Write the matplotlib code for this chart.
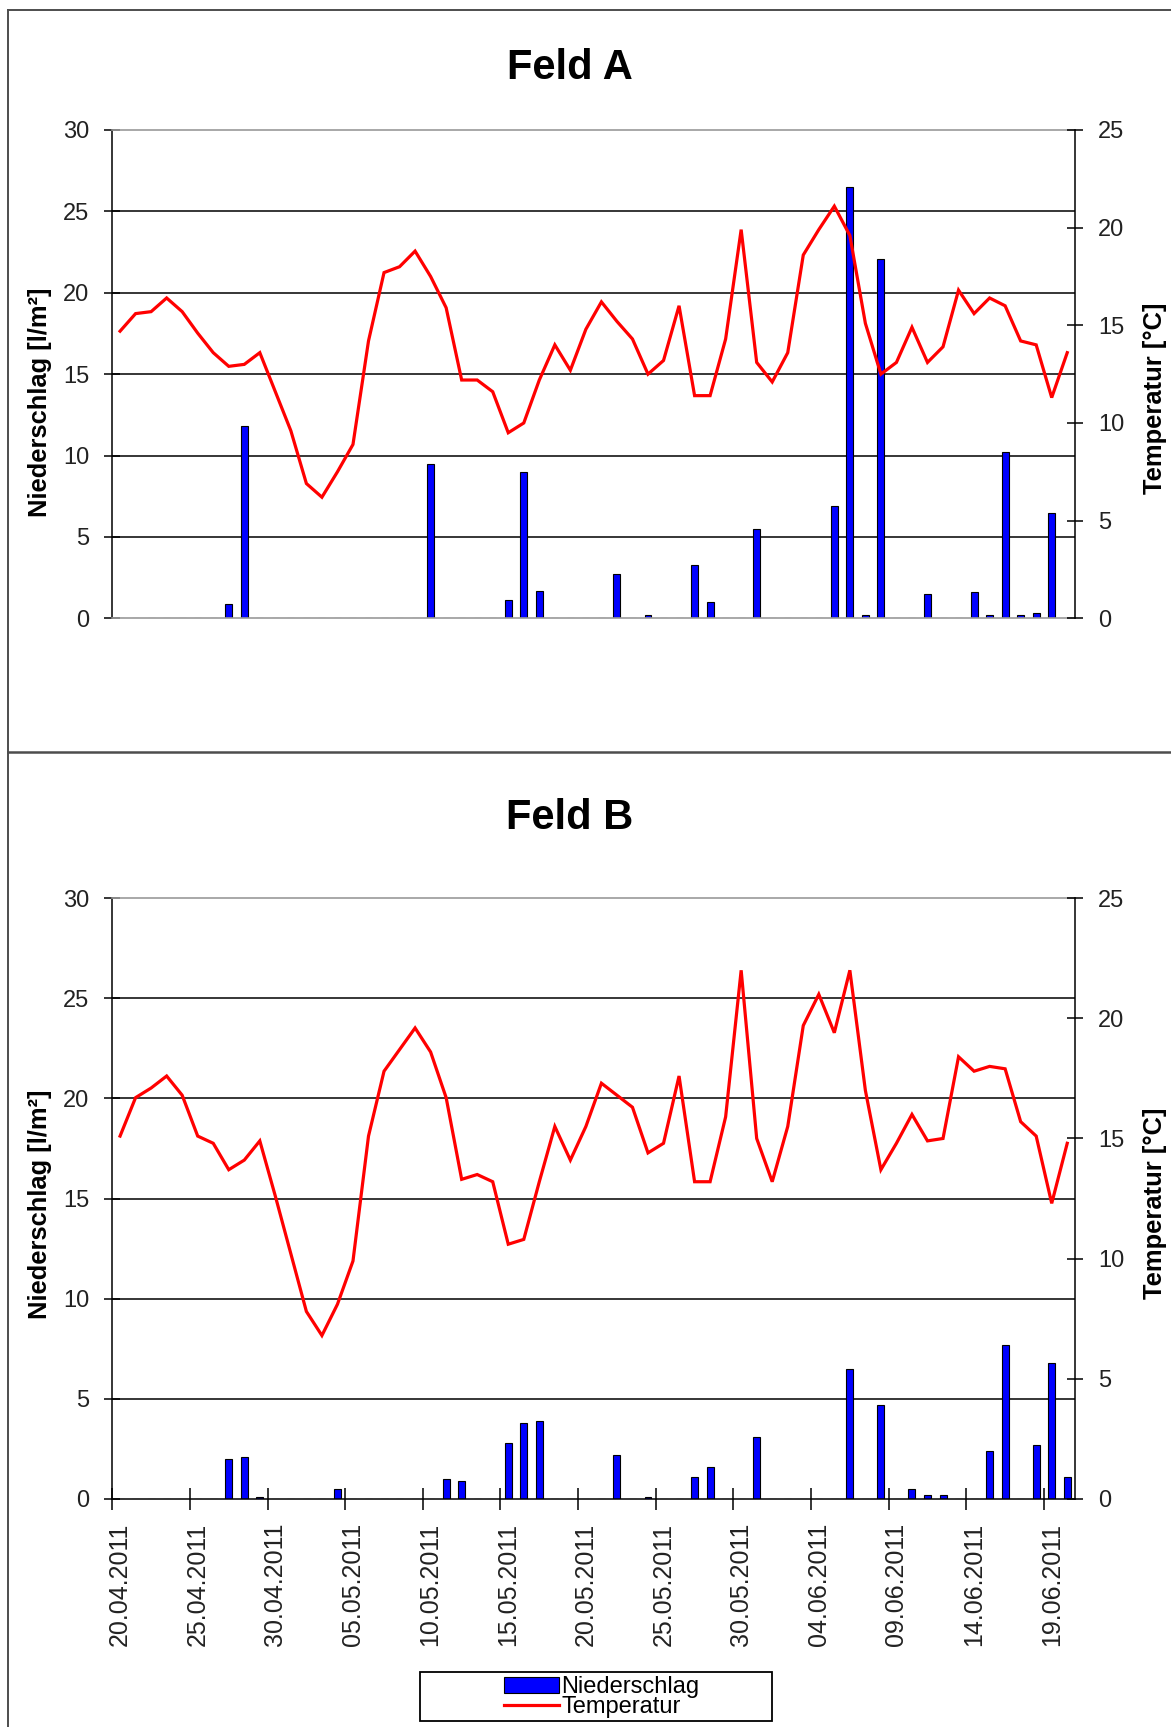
import numpy as np
import pandas as pd
import matplotlib
matplotlib.use("Agg")
import matplotlib.pyplot as plt
import matplotlib.dates as mdates
from matplotlib.lines import Line2D
from matplotlib.patches import Patch, Rectangle

plt.rcParams["font.family"] = ["Liberation Sans", "DejaVu Sans"]

# ---- data: daily values 20.04.2011 - 20.06.2011 ----
days = pd.date_range("2011-04-20", periods=62, freq="D")

precip_a = [0, 0, 0, 0, 0, 0, 0, 0.9, 11.8, 0,
            0, 0, 0, 0, 0, 0, 0, 0, 0, 0,
            9.5, 0, 0, 0, 0, 1.1, 9.0, 1.7, 0, 0,
            0, 0, 2.7, 0, 0.2, 0, 0, 3.3, 1.0, 0,
            0, 5.5, 0, 0, 0, 0, 6.9, 26.5, 0.2, 22.1,
            0, 0, 1.5, 0, 0, 1.6, 0.2, 10.2, 0.2, 0.3,
            6.5, 0]
temp_a = [14.7, 15.6, 15.7, 16.4, 15.7, 14.6, 13.6, 12.9, 13.0, 13.6,
          11.6, 9.6, 6.9, 6.2, 7.5, 8.9, 14.2, 17.7, 18.0, 18.8,
          17.5, 15.9, 12.2, 12.2, 11.6, 9.5, 10.0, 12.2, 14.0, 12.7,
          14.8, 16.2, 15.2, 14.3, 12.5, 13.2, 16.0, 11.4, 11.4, 14.3,
          19.9, 13.1, 12.1, 13.6, 18.6, 19.9, 21.1, 19.6, 15.1, 12.5,
          13.1, 14.9, 13.1, 13.9, 16.8, 15.6, 16.4, 16.0, 14.2, 14.0,
          11.3, 13.6]

precip_b = [0, 0, 0, 0, 0, 0, 0, 2.0, 2.1, 0.1,
            0, 0, 0, 0, 0.5, 0, 0, 0, 0, 0,
            0, 1.0, 0.9, 0, 0, 2.8, 3.8, 3.9, 0, 0,
            0, 0, 2.2, 0, 0.1, 0, 0, 1.1, 1.6, 0,
            0, 3.1, 0, 0, 0, 0, 0, 6.5, 0, 4.7,
            0, 0.5, 0.2, 0.2, 0, 0, 2.4, 7.7, 0, 2.7,
            6.8, 1.1]
temp_b = [15.1, 16.7, 17.1, 17.6, 16.8, 15.1, 14.8, 13.7, 14.1, 14.9,
          12.6, 10.2, 7.8, 6.8, 8.1, 9.9, 15.1, 17.8, 18.7, 19.6,
          18.6, 16.7, 13.3, 13.5, 13.2, 10.6, 10.8, 13.2, 15.5, 14.1,
          15.5, 17.3, 16.8, 16.3, 14.4, 14.8, 17.6, 13.2, 13.2, 15.9,
          22.0, 15.0, 13.2, 15.5, 19.7, 21.0, 19.4, 22.0, 17.0, 13.7,
          14.8, 16.0, 14.9, 15.0, 18.4, 17.8, 18.0, 17.9, 15.7, 15.1,
          12.3, 14.8]

date_labels = ["20.04.2011", "25.04.2011", "30.04.2011", "05.05.2011",
               "10.05.2011", "15.05.2011", "20.05.2011", "25.05.2011",
               "30.05.2011", "04.06.2011", "09.06.2011", "14.06.2011",
               "19.06.2011"]
panel_titles = ["Feld A", "Feld B"]
series_names = ["Niederschlag", "Temperatur"]
left_label = "Niederschlag [l/m²]"
right_label = "Temperatur [°C]"

# ---- figure geometry (pixels) ----
W, H = 1171, 1727
fig = plt.figure(figsize=(W / 100, H / 100), dpi=100)


def fx(px):
    return px / W


def fy(py):
    return 1 - py / H


AX_L, AX_R = 112.3, 1075.0
ax_a = fig.add_axes([fx(AX_L), fy(618.3), (AX_R - AX_L) / W, (618.3 - 130.0) / H])
ax_b = fig.add_axes([fx(AX_L), fy(1498.9), (AX_R - AX_L) / W, (1498.9 - 898.2) / H])

day_num = mdates.date2num(days)
x_centers = day_num + 0.5
x_start = day_num[0]
tick_pos = day_num[::5]

BLUE = "#0000FF"
RED = "#FF0000"
TICK_FS = 17
GRAY = "#9a9a9a"


def draw_panel(ax, precip, temp, show_dates):
    ax.bar(x_centers, precip, width=0.45, color=BLUE, edgecolor="black",
           linewidth=0.8, zorder=2)
    ax.set_xlim(x_start, x_start + len(days))
    ax.set_ylim(0, 30)
    ax.set_yticks(np.arange(0, 31, 5))
    ax.yaxis.grid(True, color="black", linewidth=1.1)
    grid = ax.get_ygridlines()
    grid[0].set_visible(False)
    grid[-1].set_visible(False)
    ax.set_axisbelow(True)
    ax.tick_params(axis="y", direction="inout", length=12, width=1.1,
                   pad=10.5, labelsize=TICK_FS, colors="black")
    for lab in ax.get_yticklabels():
        lab.set_color("#222222")

    ax.spines["top"].set_color(GRAY)
    ax.spines["top"].set_linewidth(1.2)
    ax.spines["right"].set_visible(False)
    ax.spines["left"].set_linewidth(1.1)

    if show_dates:
        ax.spines["bottom"].set_color("black")
        ax.spines["bottom"].set_linewidth(1.1)
        ax.set_xticks(tick_pos)
        ax.set_xticklabels([])
        ax.tick_params(axis="x", which="major", direction="inout",
                       length=16, width=1.1)
        ax.set_xticks(tick_pos + 0.5, minor=True)
        ax.set_xticklabels(date_labels, minor=True, rotation=90,
                           fontsize=18, color="#222222")
        ax.tick_params(axis="x", which="minor", length=0, pad=17)
    else:
        ax.spines["bottom"].set_color(GRAY)
        ax.spines["bottom"].set_linewidth(1.2)
        ax.set_xticks([])
        ax.tick_params(axis="x", which="both", length=0, labelbottom=False)

    axt = ax.twinx()
    axt.plot(x_centers, temp, color=RED, linewidth=2.3, solid_joinstyle="miter")
    axt.set_xlim(x_start, x_start + len(days))
    axt.set_ylim(0, 25)
    axt.set_yticks(np.arange(0, 26, 5))
    axt.tick_params(axis="y", direction="inout", length=12, width=1.1,
                    pad=10.5, labelsize=TICK_FS)
    for lab in axt.get_yticklabels():
        lab.set_color("#222222")
    for side in ("left", "top", "bottom"):
        axt.spines[side].set_visible(False)
    axt.spines["right"].set_linewidth(1.1)
    return axt


draw_panel(ax_a, precip_a, temp_a, show_dates=False)
draw_panel(ax_b, precip_b, temp_b, show_dates=True)

# ---- titles and axis labels ----
title_kw = dict(ha="center", va="center", fontsize=30, fontweight="bold")
fig.text(fx(570), fy(68), panel_titles[0], **title_kw)
fig.text(fx(570), fy(818), panel_titles[1], **title_kw)

lab_kw = dict(ha="center", va="center", rotation=90, fontsize=18.4,
              fontweight="bold")
fig.text(fx(40), fy(402), left_label, **lab_kw)
fig.text(fx(1155), fy(398), right_label, **lab_kw)
fig.text(fx(40), fy(1204), left_label, **lab_kw)
fig.text(fx(1155), fy(1203), right_label, **lab_kw)

# ---- legend ----
handles = [Patch(facecolor=BLUE, edgecolor="black", linewidth=0.8),
           Line2D([], [], color=RED, linewidth=2.3)]
fig.legend(handles, series_names, loc="center",
           bbox_to_anchor=(fx(602), fy(1697)), frameon=False, fontsize=17,
           handlelength=2.3, handletextpad=0.12, labelspacing=-0.1,
           borderpad=0.0)
fig.add_artist(Rectangle((fx(420), fy(1721)), (772 - 420) / W, (1721 - 1672) / H,
                         transform=fig.transFigure, fill=False,
                         edgecolor="black", linewidth=1.3))

# ---- chart frames ----
frame_kw = dict(color="#4d4d4d", linewidth=1.4, transform=fig.transFigure)
fig.add_artist(Line2D([fx(7.5), 1], [fy(10), fy(10)], **frame_kw))
fig.add_artist(Line2D([fx(7.5), fx(7.5)], [fy(10), 0], **frame_kw))
fig.add_artist(Line2D([fx(7.5), 1], [fy(751.7), fy(751.7)],
                      color="#4d4d4d", linewidth=1.8,
                      transform=fig.transFigure))

fig.savefig("out.png", dpi=100)
